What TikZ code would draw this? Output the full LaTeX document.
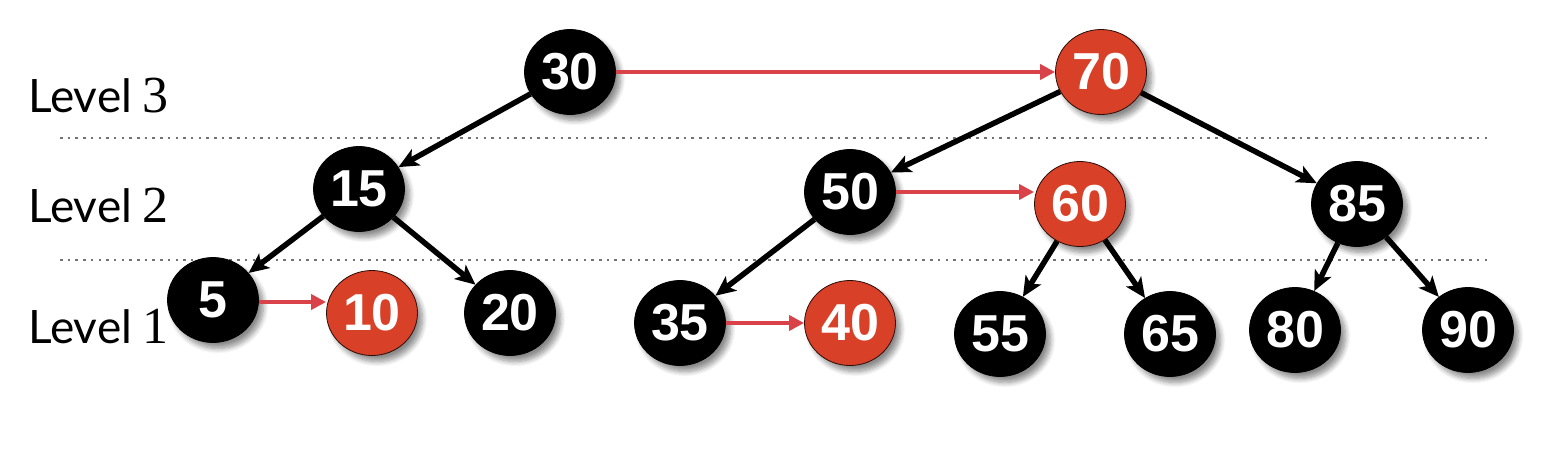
\documentclass[tikz,border=0pt]{standalone}
\usepackage{fontspec}
\setmainfont{Liberation Sans}
\newfontfamily\lvlfont{Lato}
\newfontfamily\numfont{Liberation Serif}
\usetikzlibrary{arrows.meta,shadows.blur,shapes.geometric}
\definecolor{nodered}{RGB}{216,64,40}
\definecolor{arrred}{RGB}{218,66,74}
\tikzset{
  bnode/.style={ellipse, minimum width=91pt, minimum height=85pt, inner sep=0pt,
    fill=black, draw=black, line width=0.8pt, text=white,
    font=\fontsize{52}{52}\selectfont\bfseries,
    blur shadow={shadow xshift=5pt, shadow yshift=-6pt, shadow blur steps=8, shadow blur radius=5pt, shadow opacity=45}},
  rnode/.style={bnode, fill=nodered, draw=black!80!nodered},
  barrow/.style={line width=5.5pt, -{Stealth[length=20pt,width=18pt,inset=5pt]}, black},
  rarrow/.style={line width=4.5pt, -{Triangle[length=15pt,width=15pt]}, arrred},
  lvl/.style={anchor=base west, inner sep=0pt},
  dotline/.style={line width=2.5pt, black!55, dash pattern=on 2.5pt off 5.2pt}
}
\newcommand{\lvltext}[1]{{\lvlfont\fontsize{46}{46}\selectfont Level}\hspace{10pt}{\numfont\fontsize{52}{52}\selectfont #1}}
\begin{document}
\begin{tikzpicture}[x=1pt,y=-1pt]
\useasboundingbox (0,0) rectangle (1543,451);
% level labels
\node[lvl] (l3) at (28,112) {\lvltext{3}};
\node[lvl] (l2) at (28,222) {\lvltext{2}};
\node[lvl] (l1) at (28,343) {\lvltext{1}};
% dotted separators
\coordinate (d1a) at (60,138); \coordinate (d1b) at (1490,138);
\coordinate (d2a) at (60,260); \coordinate (d2b) at (1490,260);
\draw[dotline] (d1a) -- (d1b);
\draw[dotline] (d2a) -- (d2b);
% nodes
\node[bnode] (n30) at (570,72) {30};
\node[rnode] (n70) at (1101,72) {70};
\node[bnode] (n15) at (359,189) {15};
\node[bnode] (n50) at (850,192) {50};
\node[rnode] (n60) at (1080,204) {60};
\node[bnode] (n85) at (1357,204) {85};
\node[bnode] (n5) at (213,300) {5};
\node[rnode] (n10) at (372,313) {10};
\node[bnode] (n20) at (510,313) {20};
\node[bnode] (n35) at (680,323) {35};
\node[rnode] (n40) at (850,323) {40};
\node[bnode] (n55) at (1000,334) {55};
\node[bnode] (n65) at (1170,334) {65};
\node[bnode] (n80) at (1295,330) {80};
\node[bnode] (n90) at (1468,330) {90};
% black tree arrows
\draw[barrow] (n30) -- (n15);
\draw[barrow] (n15) -- (n5);
\draw[barrow] (n15) -- (n20);
\draw[barrow] (n70) -- (n50);
\draw[barrow] (n70) -- (n85);
\draw[barrow] (n50) -- (n35);
\draw[barrow] (n60) -- (n55);
\draw[barrow] (n60) -- (n65);
\draw[barrow] (n85) -- (n80);
\draw[barrow] (n85) -- (n90);
% red sibling arrows
\draw[rarrow] (n30.east) -- (n70.west);
\draw[rarrow] ([yshift=-2pt]n5.east) -- ([yshift=-2pt]n5.east -| n10.west);
\draw[rarrow] (n50.east) -- (n50.east -| n60.west);
\draw[rarrow] (n35.east) -- (n40.west);
\end{tikzpicture}
\end{document}
